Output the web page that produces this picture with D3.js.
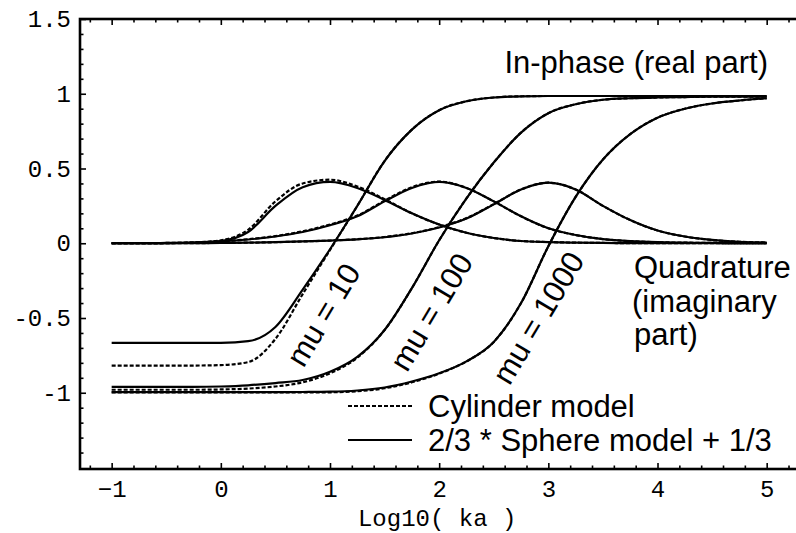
<!DOCTYPE html>
<meta charset="utf-8">
<script src="https://d3js.org/d3.v7.min.js"></script>
<style>
  body { margin: 0; background: #fff; }
</style>
<body></body>
<script>

// sample points along Log10(ka)
var xs = [-1, -0.75, -0.5, -0.25, 0, 0.25, 0.5, 0.75, 1, 1.25, 1.5, 1.75, 2,
          2.25, 2.5, 2.75, 3, 3.25, 3.5, 3.75, 4, 4.25, 4.5, 4.75, 5];

// in-phase (real part)
var s10Re   = [-0.667,-0.667,-0.667,-0.667,-0.666,-0.655,-0.56,-0.31,-0.04,0.25,0.55,0.76,0.89,0.95,0.975,0.983,0.985,0.985,0.985,0.985,0.985,0.985,0.985,0.985,0.985];
var c10Re   = [-0.818,-0.818,-0.818,-0.818,-0.815,-0.795,-0.64,-0.34,-0.045,0.25,0.55,0.76,0.89,0.95,0.975,0.983,0.985,0.985,0.985,0.985,0.985,0.985,0.985,0.985,0.985];
var s100Re  = [-0.961,-0.961,-0.961,-0.961,-0.958,-0.95,-0.935,-0.915,-0.86,-0.76,-0.58,-0.30,0.02,0.30,0.54,0.74,0.87,0.93,0.96,0.97,0.975,0.978,0.98,0.98,0.98];
var c100Re  = [-0.98,-0.98,-0.98,-0.98,-0.978,-0.972,-0.958,-0.93,-0.87,-0.765,-0.58,-0.30,0.02,0.30,0.54,0.74,0.87,0.93,0.96,0.97,0.975,0.978,0.98,0.98,0.98];
var s1000Re = [-0.996,-0.996,-0.996,-0.996,-0.996,-0.996,-0.996,-0.995,-0.993,-0.985,-0.965,-0.925,-0.87,-0.79,-0.66,-0.40,-0.02,0.31,0.56,0.73,0.84,0.90,0.935,0.955,0.97];
var c1000Re = [-0.998,-0.998,-0.998,-0.998,-0.998,-0.998,-0.998,-0.998,-0.997,-0.99,-0.97,-0.93,-0.872,-0.79,-0.66,-0.40,-0.02,0.31,0.56,0.73,0.84,0.90,0.935,0.955,0.97];

// quadrature (imaginary part)
var s10Im   = [0,0,0.001,0.004,0.015,0.075,0.25,0.375,0.41,0.37,0.29,0.20,0.125,0.07,0.035,0.015,0.008,0.004,0.002,0.001,0,0,0,0,0];
var c10Im   = [0,0,0.001,0.005,0.02,0.09,0.28,0.40,0.425,0.38,0.295,0.20,0.125,0.07,0.035,0.015,0.008,0.004,0.002,0.001,0,0,0,0,0];
var s100Im  = [0,0,0.002,0.005,0.012,0.025,0.045,0.075,0.12,0.18,0.28,0.37,0.41,0.37,0.28,0.18,0.10,0.055,0.028,0.014,0.007,0.004,0.002,0.001,0];
var c100Im  = [0,0,0.002,0.005,0.013,0.027,0.048,0.08,0.125,0.185,0.285,0.375,0.412,0.37,0.28,0.18,0.10,0.055,0.028,0.014,0.007,0.004,0.002,0.001,0];
var s1000Im = [0,0,0,0.001,0.002,0.004,0.007,0.012,0.018,0.026,0.04,0.065,0.105,0.165,0.26,0.36,0.405,0.36,0.25,0.155,0.085,0.045,0.022,0.01,0.005];
var c1000Im = [0,0,0,0.001,0.002,0.004,0.007,0.012,0.018,0.027,0.042,0.067,0.108,0.168,0.262,0.36,0.405,0.36,0.25,0.155,0.085,0.045,0.022,0.01,0.005];

var xMajor = [-1, 0, 1, 2, 3, 4, 5];
var yMajor = [-1, -0.5, 0, 0.5, 1, 1.5];
var yLabels = ["-1", "-0.5", "0", "0.5", "1", "1.5"];
var muLabels = ["mu = 10", "mu = 100", "mu = 1000"];
var muPos = [[0.94, -0.48], [1.93, -0.46], [2.91, -0.5]];

var width = 796, height = 533;
var margin = {left: 80, top: 19, bottom: 64};

var svg = d3.select("body").append("svg")
  .attr("width", width)
  .attr("height", height);

var xScale = d3.scaleLinear().domain([-1.29, 5.3]).range([margin.left, margin.left + 6.59 * 109.17]);
var yScale = d3.scaleLinear().domain([-1.51, 1.5]).range([height - margin.bottom, margin.top]);

var monoFont = "'Liberation Mono', 'DejaVu Sans Mono', monospace";
var sansFont = "'Liberation Sans', Arial, Helvetica, sans-serif";

var x0 = xScale.range()[0], x1 = xScale.range()[1];
var y0 = yScale.range()[0], y1 = yScale.range()[1];

// minor ticks
var xMinor = d3.range(-1.2, 5.3, 0.2).filter(v => Math.abs(v - Math.round(v)) > 0.01);
var yMinor = d3.range(-1.5, 1.51, 0.1).filter(v => Math.abs(v * 2 - Math.round(v * 2)) > 0.01);

function styleAxis(g) {
  g.select(".domain").remove();
  g.selectAll("line").attr("stroke", "#000").attr("stroke-width", 1.6);
  g.selectAll("text").attr("fill", "#000");
  g.attr("font-family", monoFont).attr("font-size", 24);
}

// bottom
svg.append("g").attr("transform", `translate(0,${y0})`)
  .call(d3.axisBottom(xScale).tickValues(xMinor).tickSize(-3.5).tickFormat(""))
  .call(styleAxis);
svg.append("g").attr("transform", `translate(0,${y0})`)
  .call(d3.axisBottom(xScale).tickValues(xMajor).tickSize(-6).tickPadding(11).tickFormat(d3.format("d")))
  .call(styleAxis);

// top
svg.append("g").attr("transform", `translate(0,${y1})`)
  .call(d3.axisTop(xScale).tickValues(xMinor).tickSize(-3.5).tickFormat(""))
  .call(styleAxis);
svg.append("g").attr("transform", `translate(0,${y1})`)
  .call(d3.axisTop(xScale).tickValues(xMajor).tickSize(-6).tickFormat(""))
  .call(styleAxis);

// left
svg.append("g").attr("transform", `translate(${x0},0)`)
  .call(d3.axisLeft(yScale).tickValues(yMinor).tickSize(-3.5).tickFormat(""))
  .call(styleAxis);
svg.append("g").attr("transform", `translate(${x0},0)`)
  .call(d3.axisLeft(yScale).tickValues(yMajor).tickSize(-6).tickPadding(9)
    .tickFormat((d, i) => yLabels[i]))
  .call(styleAxis);

// frame
svg.append("rect")
  .attr("x", x0).attr("y", y1)
  .attr("width", x1 - x0).attr("height", y0 - y1)
  .attr("fill", "none").attr("stroke", "#000").attr("stroke-width", 2.6);

// curves
var line = d3.line()
  .x((d, i) => xScale(xs[i]))
  .y(d => yScale(d))
  .curve(d3.curveMonotoneX);

var solid = [s10Re, s100Re, s1000Re, s10Im, s100Im, s1000Im];
var dashed = [c10Re, c100Re, c1000Re, c10Im, c100Im, c1000Im];

svg.selectAll(".solid").data(solid).enter().append("path")
  .attr("class", "solid")
  .attr("d", line)
  .attr("fill", "none").attr("stroke", "#000").attr("stroke-width", 2.2);

svg.selectAll(".dashed").data(dashed).enter().append("path")
  .attr("class", "dashed")
  .attr("d", line)
  .attr("fill", "none").attr("stroke", "#000").attr("stroke-width", 2.2)
  .attr("stroke-dasharray", "4,2");

// text annotations
var ann = svg.append("g").attr("font-family", sansFont).attr("font-size", 31).attr("fill", "#000");

ann.append("text").attr("x", 768).attr("y", 73).attr("text-anchor", "end").text("In-phase (real part)");
ann.append("text").attr("x", 634).attr("y", 278).text("Quadrature");
ann.append("text").attr("x", 632).attr("y", 312).text("(imaginary");
ann.append("text").attr("x", 634).attr("y", 345).text("part)");

ann.selectAll(".mu").data(muLabels).enter().append("text")
  .attr("class", "mu")
  .attr("text-anchor", "middle")
  .attr("dominant-baseline", "central")
  .attr("transform", (d, i) => `translate(${xScale(muPos[i][0])},${yScale(muPos[i][1])}) rotate(-59)`)
  .text(d => d);

// legend
var legend = [{label: "Cylinder model", dash: "4,2"}, {label: "2/3 * Sphere model + 1/3", dash: null}];
var lg = svg.append("g").attr("transform", "translate(348,406)");
lg.selectAll("line").data(legend).enter().append("line")
  .attr("x1", 0).attr("x2", 64)
  .attr("y1", (d, i) => i * 34).attr("y2", (d, i) => i * 34)
  .attr("stroke", "#000").attr("stroke-width", 2.2)
  .attr("stroke-dasharray", d => d.dash);
lg.selectAll("text").data(legend).enter().append("text")
  .attr("x", 80).attr("y", (d, i) => i * 34 + 11)
  .attr("font-family", sansFont).attr("font-size", 31)
  .text(d => d.label);

// x axis title
svg.append("text")
  .attr("x", xScale(2) - 2).attr("y", 526)
  .attr("text-anchor", "middle")
  .attr("font-family", monoFont).attr("font-size", 24)
  .text("Log10( ka )");

</script>
